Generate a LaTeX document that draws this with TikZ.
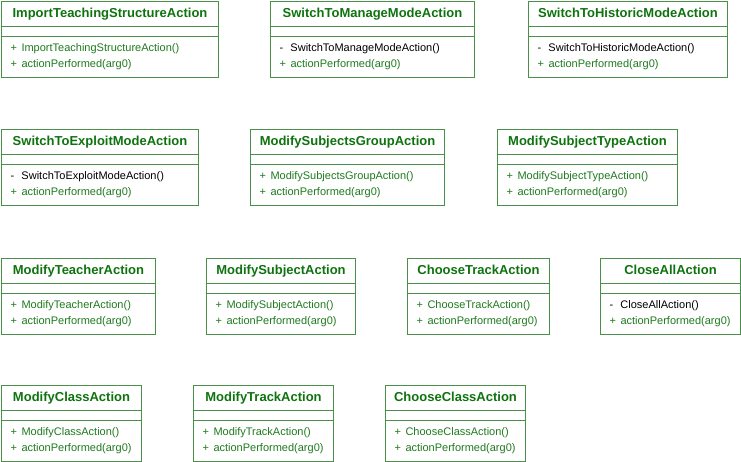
\documentclass[tikz,border=0pt]{standalone}
\usepackage{fontspec}
\setsansfont{Liberation Sans}
\usetikzlibrary{positioning}
\definecolor{umlline}{HTML}{4A8F4A}
\definecolor{umltitle}{HTML}{0E730E}
\definecolor{umlop}{HTML}{1E7A1E}

\begin{document}
\begin{tikzpicture}[x=1pt,y=-1pt,line width=1pt,node distance=0pt,font=\sffamily]
\tikzstyle{compartment}=[rectangle,draw=umlline,inner sep=0pt,outer sep=0pt]
\tikzstyle{title part}=[compartment,minimum height=25pt,text height=9.5pt,text depth=2.5pt,text=umltitle,font=\sffamily\bfseries\fontsize{13}{15}\selectfont]
\tikzstyle{attr part}=[compartment,minimum height=10pt]
\tikzstyle{op part}=[compartment,minimum height=41pt,inner xsep=9pt,align=left,font=\sffamily\fontsize{11}{16}\selectfont]

\useasboundingbox (0,0) rectangle (741,462);

% each class: name / left / top / width / sign of the constructor / its colour
\foreach \cname/\x/\y/\w/\vis/\vcol in {
  ImportTeachingStructureAction/1.5/1.5/217/+/umlop,
  SwitchToManageModeAction/270.5/1.5/204/-/black,
  SwitchToHistoricModeAction/528.5/1.5/199/-/black,
  SwitchToExploitModeAction/1.5/129.5/197/-/black,
  ModifySubjectsGroupAction/250.5/129.5/194/+/umlop,
  ModifySubjectTypeAction/497.5/129.5/180/+/umlop,
  ModifyTeacherAction/1.5/258.5/154/+/umlop,
  ModifySubjectAction/206.5/258.5/149/+/umlop,
  ChooseTrackAction/407.5/258.5/142/+/umlop,
  CloseAllAction/600.5/258.5/140/-/black,
  ModifyClassAction/1.5/385.5/140/+/umlop,
  ModifyTrackAction/193.5/385.5/140/+/umlop,
  ChooseClassAction/385.5/385.5/140/+/umlop}
{
\pgfmathsetmacro\tw{\w-18}
\node[title part,anchor=north west,minimum width=\w pt] (\cname-t) at (\x,\y) {\cname};
\node[attr part,minimum width=\w pt,below=of \cname-t] (\cname-a) {};
\node[op part,text width=\tw pt,below=of \cname-a] (\cname-o)
  {{\color{\vcol}\makebox[11pt][l]{\vis}\cname()}\\
   {\color{umlop}\makebox[11pt][l]{+}actionPerformed(arg0)}};
}
\end{tikzpicture}
\end{document}
